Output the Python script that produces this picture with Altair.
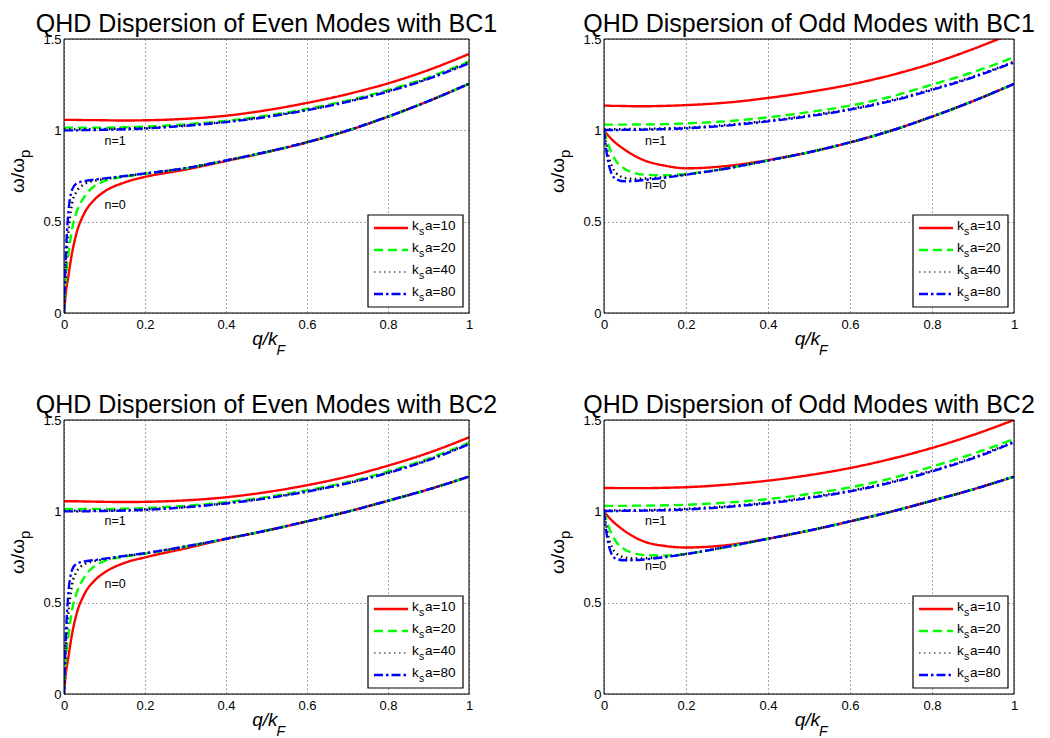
import altair as alt
import pandas as pd

FONT = "Liberation Sans"

# ---------------- data ----------------
Q = [0, 0.005, 0.01, 0.02, 0.03, 0.05, 0.075, 0.1, 0.15, 0.2, 0.3, 0.4, 0.5, 0.6, 0.7, 0.8, 0.9, 1.0]

KS = ["10", "20", "40", "80"]
COLORS = ["#ff0000", "#00ff00", "#000000", "#0000ff"]
DASHES = [[1, 0], [9, 5], [1.5, 3.5], [9, 3, 2.5, 3]]
WIDTHS = [2.4, 2.4, 1.2, 2.4]

X_TICKS = [0, 0.2, 0.4, 0.6, 0.8, 1.0]
Y_TICKS = [0, 0.5, 1.0, 1.5]

# Even modes, BC1
EB1_N0_10 = [0, 0.12, 0.19, 0.33, 0.43, 0.545, 0.62, 0.665, 0.715, 0.745, 0.785, 0.832, 0.88, 0.934, 0.998, 1.075, 1.16, 1.255]
EB1_N0_20 = [0, 0.20, 0.30, 0.46, 0.545, 0.635, 0.695, 0.722, 0.747, 0.762, 0.792, 0.834, 0.881, 0.935, 0.999, 1.075, 1.16, 1.255]
EB1_N0_40 = [0, 0.27, 0.42, 0.60, 0.66, 0.705, 0.724, 0.733, 0.749, 0.763, 0.793, 0.835, 0.882, 0.935, 0.999, 1.075, 1.16, 1.255]
EB1_N0_80 = [0, 0.34, 0.53, 0.675, 0.708, 0.722, 0.73, 0.737, 0.75, 0.764, 0.793, 0.835, 0.882, 0.935, 0.999, 1.075, 1.16, 1.255]
EB1_N1_10 = [1.057, 1.057, 1.057, 1.057, 1.057, 1.056, 1.056, 1.055, 1.054, 1.055, 1.063, 1.08, 1.11, 1.15, 1.198, 1.257, 1.33, 1.418]
EB1_N1_20 = [1.015, 1.015, 1.015, 1.015, 1.015, 1.015, 1.015, 1.015, 1.017, 1.02, 1.033, 1.052, 1.08, 1.117, 1.163, 1.22, 1.29, 1.377]
EB1_N1_40 = [1.005, 1.005, 1.005, 1.005, 1.005, 1.006, 1.007, 1.008, 1.01, 1.013, 1.027, 1.047, 1.076, 1.112, 1.158, 1.215, 1.285, 1.371]
EB1_N1_80 = [1.0, 1.0, 1.0, 1.0, 1.0, 1.001, 1.002, 1.003, 1.006, 1.01, 1.025, 1.045, 1.073, 1.11, 1.156, 1.212, 1.282, 1.367]

# Odd modes, BC1
OB1_N0_10 = [1.0, 0.985, 0.972, 0.948, 0.928, 0.895, 0.86, 0.834, 0.806, 0.792, 0.805, 0.837, 0.88, 0.934, 0.998, 1.075, 1.16, 1.254]
OB1_N0_20 = [1.0, 0.96, 0.925, 0.87, 0.83, 0.79, 0.766, 0.757, 0.754, 0.761, 0.792, 0.835, 0.88, 0.934, 0.998, 1.075, 1.16, 1.254]
OB1_N0_40 = [1.0, 0.93, 0.87, 0.80, 0.765, 0.74, 0.734, 0.736, 0.745, 0.758, 0.792, 0.835, 0.88, 0.934, 0.998, 1.075, 1.16, 1.254]
OB1_N0_80 = [1.0, 0.90, 0.83, 0.755, 0.733, 0.721, 0.723, 0.729, 0.741, 0.757, 0.791, 0.835, 0.88, 0.934, 0.998, 1.075, 1.16, 1.254]
OB1_N1_10 = [1.135, 1.135, 1.135, 1.134, 1.134, 1.133, 1.132, 1.132, 1.134, 1.138, 1.152, 1.177, 1.21, 1.25, 1.302, 1.366, 1.445, 1.535]
OB1_N1_20 = [1.031, 1.031, 1.031, 1.031, 1.031, 1.031, 1.032, 1.032, 1.034, 1.038, 1.05, 1.071, 1.10, 1.135, 1.185, 1.25, 1.318, 1.40]
OB1_N1_40 = [1.006, 1.006, 1.006, 1.006, 1.006, 1.007, 1.007, 1.008, 1.011, 1.015, 1.03, 1.053, 1.081, 1.117, 1.164, 1.225, 1.294, 1.376]
OB1_N1_80 = [1.002, 1.002, 1.002, 1.002, 1.002, 1.003, 1.003, 1.004, 1.007, 1.011, 1.026, 1.049, 1.077, 1.113, 1.16, 1.221, 1.29, 1.372]

# Even modes, BC2
EB2_N0_10 = [0, 0.12, 0.19, 0.33, 0.43, 0.545, 0.62, 0.665, 0.718, 0.748, 0.797, 0.849, 0.894, 0.945, 0.998, 1.058, 1.12, 1.19]
EB2_N0_20 = [0, 0.20, 0.30, 0.46, 0.545, 0.638, 0.70, 0.728, 0.753, 0.768, 0.806, 0.85, 0.895, 0.945, 0.998, 1.058, 1.12, 1.19]
EB2_N0_40 = [0, 0.27, 0.42, 0.60, 0.665, 0.71, 0.728, 0.737, 0.755, 0.77, 0.807, 0.85, 0.895, 0.945, 0.998, 1.058, 1.12, 1.19]
EB2_N0_80 = [0, 0.34, 0.53, 0.68, 0.712, 0.726, 0.733, 0.741, 0.756, 0.771, 0.808, 0.85, 0.895, 0.945, 0.998, 1.058, 1.12, 1.19]
EB2_N1_10 = [1.055, 1.055, 1.055, 1.055, 1.055, 1.054, 1.053, 1.052, 1.051, 1.052, 1.06, 1.077, 1.105, 1.143, 1.19, 1.25, 1.32, 1.405]
EB2_N1_20 = [1.013, 1.013, 1.013, 1.013, 1.013, 1.013, 1.013, 1.013, 1.015, 1.018, 1.03, 1.05, 1.078, 1.115, 1.16, 1.218, 1.288, 1.375]
EB2_N1_40 = [1.004, 1.004, 1.004, 1.004, 1.004, 1.004, 1.005, 1.005, 1.007, 1.011, 1.024, 1.045, 1.073, 1.11, 1.155, 1.212, 1.283, 1.37]
EB2_N1_80 = [1.0, 1.0, 1.0, 1.0, 1.0, 1.0, 1.001, 1.002, 1.004, 1.008, 1.022, 1.043, 1.071, 1.108, 1.153, 1.21, 1.28, 1.367]

# Odd modes, BC2
OB2_N0_10 = [1.0, 0.985, 0.972, 0.948, 0.928, 0.893, 0.858, 0.833, 0.81, 0.802, 0.815, 0.85, 0.894, 0.945, 0.998, 1.058, 1.12, 1.19]
OB2_N0_20 = [1.0, 0.96, 0.925, 0.87, 0.832, 0.792, 0.77, 0.76, 0.758, 0.767, 0.805, 0.85, 0.895, 0.945, 0.998, 1.058, 1.12, 1.19]
OB2_N0_40 = [1.0, 0.93, 0.87, 0.80, 0.77, 0.748, 0.742, 0.743, 0.752, 0.767, 0.806, 0.85, 0.895, 0.945, 0.998, 1.058, 1.12, 1.19]
OB2_N0_80 = [1.0, 0.90, 0.83, 0.76, 0.74, 0.732, 0.733, 0.737, 0.75, 0.766, 0.806, 0.85, 0.895, 0.945, 0.998, 1.058, 1.12, 1.19]
OB2_N1_10 = [1.128, 1.128, 1.128, 1.128, 1.127, 1.127, 1.127, 1.127, 1.129, 1.132, 1.146, 1.168, 1.198, 1.237, 1.287, 1.347, 1.418, 1.50]
OB2_N1_20 = [1.03, 1.03, 1.03, 1.03, 1.03, 1.03, 1.031, 1.031, 1.033, 1.036, 1.048, 1.067, 1.095, 1.131, 1.18, 1.245, 1.315, 1.396]
OB2_N1_40 = [1.005, 1.005, 1.005, 1.005, 1.005, 1.006, 1.006, 1.007, 1.01, 1.014, 1.028, 1.048, 1.077, 1.113, 1.161, 1.223, 1.294, 1.382]
OB2_N1_80 = [1.002, 1.002, 1.002, 1.002, 1.002, 1.003, 1.003, 1.004, 1.006, 1.01, 1.024, 1.044, 1.073, 1.109, 1.157, 1.219, 1.29, 1.378]

PANELS = [
    ("QHD Dispersion of Even Modes with BC1",
     [EB1_N0_10, EB1_N0_20, EB1_N0_40, EB1_N0_80], [EB1_N1_10, EB1_N1_20, EB1_N1_40, EB1_N1_80], 0.94, 0.59, 405),
    ("QHD Dispersion of Odd Modes with BC1",
     [OB1_N0_10, OB1_N0_20, OB1_N0_40, OB1_N0_80], [OB1_N1_10, OB1_N1_20, OB1_N1_40, OB1_N1_80], 0.94, 0.70, 410),
    ("QHD Dispersion of Even Modes with BC2",
     [EB2_N0_10, EB2_N0_20, EB2_N0_40, EB2_N0_80], [EB2_N1_10, EB2_N1_20, EB2_N1_40, EB2_N1_80], 0.945, 0.60, 405),
    ("QHD Dispersion of Odd Modes with BC2",
     [OB2_N0_10, OB2_N0_20, OB2_N0_40, OB2_N0_80], [OB2_N1_10, OB2_N1_20, OB2_N1_40, OB2_N1_80], 0.945, 0.70, 410),
]

H = 274
ONE = pd.DataFrame({"k": [0]})


def make_panel(title, n0, n1, y_n1, y_n0, W, anchor=False):
    xs = alt.Scale(domain=[0, 1], nice=False, zero=False)
    ys = alt.Scale(domain=[0, 1.5], nice=False, zero=False)
    x_axis = alt.Axis(values=X_TICKS, format="~g", title=None, grid=True, gridDash=[1, 3],
                      gridColor="#555555", gridWidth=1, ticks=False, tickSize=0, domain=False,
                      labelFont=FONT, labelFontSize=13, labelColor="black", labelPadding=5,
                      labelFlush=False)
    y_axis = alt.Axis(values=Y_TICKS, format="~g", title=None, grid=True, gridDash=[1, 3],
                      gridColor="#555555", gridWidth=1, ticks=False, tickSize=0, domain=False,
                      labelFont=FONT, labelFontSize=13, labelColor="black", labelPadding=3,
                      labelFlush=False)
    layers = []
    for i, ks in enumerate(KS):
        rows = []
        for br, vals in (("n0", n0[i]), ("n1", n1[i])):
            for q, w in zip(Q, vals):
                rows.append({"q": q, "w": w, "ks": ks, "branch": br})
        df = pd.DataFrame(rows)
        layers.append(
            alt.Chart(df).mark_line(clip=True, interpolate="monotone").encode(
                x=alt.X("q:Q", scale=xs, axis=x_axis),
                y=alt.Y("w:Q", scale=ys, axis=y_axis),
                color=alt.Color("ks:N", scale=alt.Scale(domain=KS, range=COLORS), legend=None),
                strokeDash=alt.StrokeDash("ks:N", scale=alt.Scale(domain=KS, range=DASHES), legend=None),
                strokeWidth=alt.StrokeWidth("ks:N", scale=alt.Scale(domain=KS, range=WIDTHS), legend=None),
                detail="branch:N",
            )
        )
    lab = pd.DataFrame({"q": [0.1, 0.1], "w": [y_n1, y_n0], "t": ["n=1", "n=0"]})
    layers.append(
        alt.Chart(lab).mark_text(font=FONT, fontSize=12.5, align="left", baseline="middle", color="black").encode(
            x=alt.X("q:Q", scale=xs), y=alt.Y("w:Q", scale=ys), text="t:N")
    )
    deco = alt.Chart(ONE)
    # legend
    layers.append(deco.mark_rect(fill="white", stroke="black", strokeWidth=1.2).encode(
        x=alt.value(W - 101), x2=alt.value(W - 6), y=alt.value(H - 98), y2=alt.value(H - 6)))
    for i, ks in enumerate(KS):
        yr = H - 85 + 22 * i
        layers.append(deco.mark_rule(color=COLORS[i], strokeDash=DASHES[i], strokeWidth=WIDTHS[i]).encode(
            x=alt.value(W - 95), x2=alt.value(W - 61), y=alt.value(yr)))
        layers.append(deco.mark_text(text="k", font=FONT, fontSize=13.5, align="left", baseline="alphabetic").encode(
            x=alt.value(W - 57), y=alt.value(yr + 2)))
        layers.append(deco.mark_text(text="s", font=FONT, fontSize=10.5, align="left", baseline="alphabetic").encode(
            x=alt.value(W - 50), y=alt.value(yr + 6.5)))
        layers.append(deco.mark_text(text="a=" + ks, font=FONT, fontSize=13.5, align="left", baseline="alphabetic").encode(
            x=alt.value(W - 44), y=alt.value(yr + 2)))
    # frame
    layers.append(deco.mark_rect(fillOpacity=0, stroke="black", strokeWidth=1).encode(
        x=alt.value(0), x2=alt.value(W), y=alt.value(0), y2=alt.value(H)))
    # title
    layers.append(deco.mark_text(text=title, font=FONT, fontSize=25, align="center", baseline="alphabetic").encode(
        x=alt.value(W / 2), y=alt.value(-7)))
    # x axis title q/k_F
    layers.append(deco.mark_text(text="q/k", font=FONT, fontSize=19, fontStyle="italic", align="right",
                                 baseline="alphabetic").encode(x=alt.value(W / 2 + 11), y=alt.value(H + 32)))
    layers.append(deco.mark_text(text="F", font=FONT, fontSize=14, fontStyle="italic", align="left",
                                 baseline="alphabetic").encode(x=alt.value(W / 2 + 10), y=alt.value(H + 42)))
    # y axis title omega/omega_p
    layers.append(deco.mark_text(text="ω/ω", font=FONT, fontSize=19, angle=270, align="right",
                                 baseline="alphabetic").encode(x=alt.value(-40), y=alt.value(H / 2 - 18)))
    layers.append(deco.mark_text(text="p", font=FONT, fontSize=15, angle=270, align="left",
                                 baseline="alphabetic").encode(x=alt.value(-34), y=alt.value(H / 2 - 18)))
    if anchor:
        layers.append(deco.mark_rule(color="white", strokeWidth=1).encode(
            x=alt.value(-54.5), y=alt.value(-30), y2=alt.value(4)))
    return alt.layer(*layers).properties(width=W, height=H)


charts = [make_panel(*p, anchor=(k == 0)) for k, p in enumerate(PANELS)]

chart = alt.concat(*charts, columns=2, spacing={"row": 107, "column": 135}, bounds="flush").properties(
    padding={"left": 0, "top": 0, "right": 0, "bottom": 0}
).configure_view(stroke=None).configure(background="white")

chart.save("out.html", embed_options={"renderer": "svg", "actions": False})
